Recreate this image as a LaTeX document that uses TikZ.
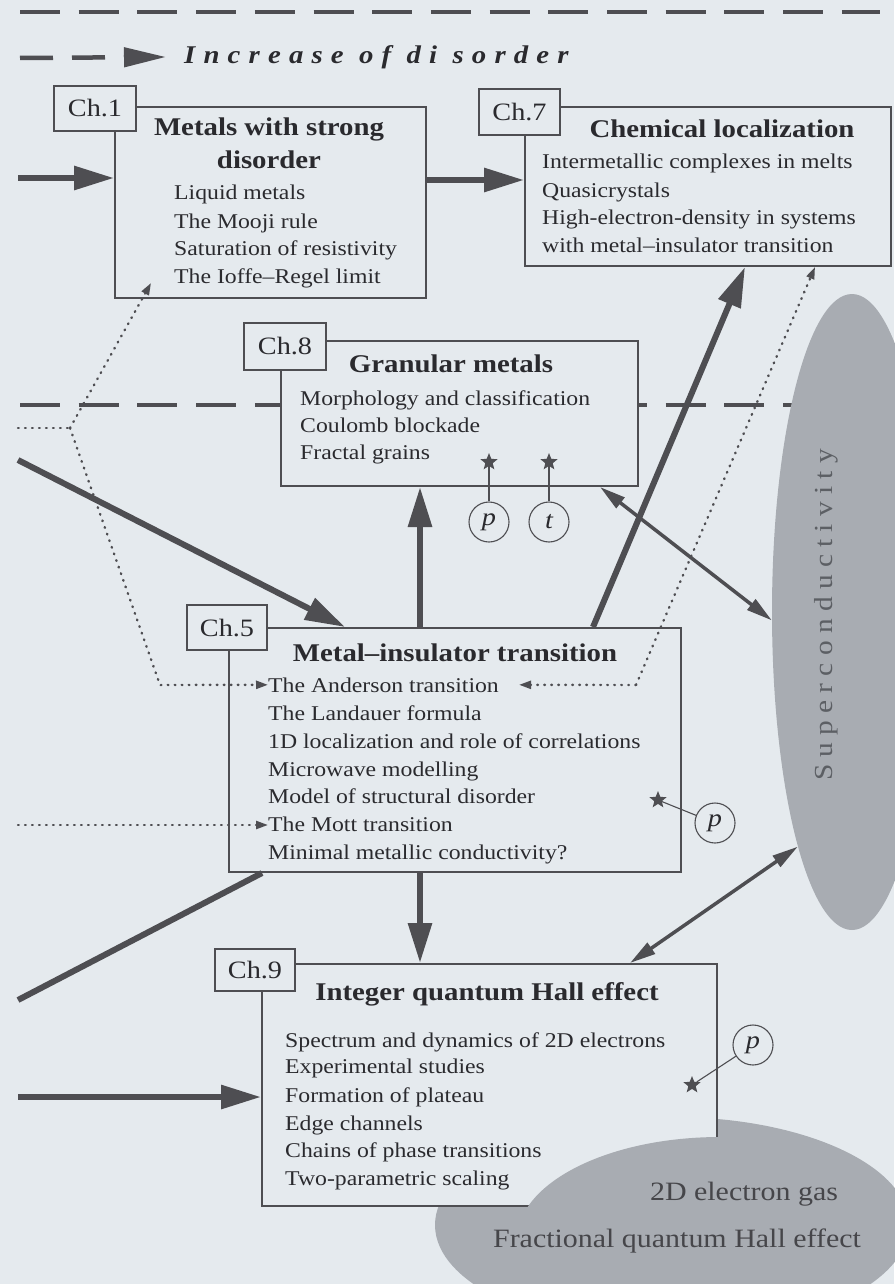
\documentclass[tikz,border=0pt]{standalone}
\usepackage{fontspec}
\setmainfont{Liberation Serif}[FakeStretch=1.13]
\usepackage{xcolor}
\usepackage{tikz}
\usetikzlibrary{shapes.geometric}
\usetikzlibrary{arrows.meta}

\definecolor{paper}{RGB}{229,234,238}
\definecolor{ink}{RGB}{78,78,82}
\definecolor{print}{RGB}{42,42,46}
\definecolor{blob}{RGB}{168,172,178}
\definecolor{blobtext}{RGB}{92,95,100}
\definecolor{gasink}{RGB}{70,70,74}

\tikzset{
  chbox/.style = {draw = ink, line width = 2pt, fill = paper, rectangle, anchor = north west, inner sep = 0pt},
  chtag/.style = {draw = ink, line width = 2.4pt, fill = paper, rectangle, inner sep = 0pt, text = print, font = \fontsize{25}{30}\selectfont},
  heading/.style = {anchor = base, inner sep = 0pt, text = print, font = \fontsize{25.5}{30}\selectfont\bfseries},
  topic/.style = {anchor = base west, inner sep = 0pt, text = print, font = \fontsize{21}{25}\selectfont},
  bigarrow/.style = {draw = ink, line width = 6pt, -{Triangle[length = 40pt, width = 23pt]}},
  twoway/.style = {draw = ink, line width = 3.5pt, {Triangle[length = 26pt, width = 13pt]}-{Triangle[length = 26pt, width = 13pt]}},
  dotline/.style = {draw = ink, line width = 2.4pt, dash pattern = on 0.8pt off 6.2pt, line cap = round},
  dotarrow/.style = {dotline, -{Triangle[length = 12pt, width = 8pt]}},
  longdash/.style = {draw = ink, line width = 4.5pt, dash pattern = on 40pt off 18.7pt},
  starmark/.style = {star, star points = 5, star point ratio = 2.3, fill = ink, inner sep = 0pt, minimum size = 18pt},
  ptag/.style = {circle, draw = ink, line width = 1.1pt, minimum size = 40pt, inner sep = 0pt, text = print, font = \fontsize{25}{25}\selectfont\itshape},
  tagline/.style = {draw = ink, line width = 1.1pt},
  blobshape/.style = {ellipse, fill = blob, inner sep = 0pt},
}

\begin{document}
\begin{tikzpicture}[x = 1pt, y = -1pt]
        \fill[paper] (0, 0) rectangle (894, 1284);
        \useasboundingbox (0, 0) rectangle (894, 1284);

        % scale of disorder
        \draw[longdash] (20, 12) -- (880, 12);
        \coordinate (dstart) at (20, 58);
        \node[anchor = west, inner sep = 0pt, text = print,
            font = \fontsize{25.5}{26}\selectfont\bfseries\itshape\addfontfeatures{LetterSpace = 32}]
            (incr) at (184, 57) {Increase of di sorder};
        \draw[draw = ink, line width = 4.5pt, dash pattern = on 33pt off 19pt,
            -{Triangle[length = 42pt, width = 19pt]}] (dstart) -- ([xshift = -18pt]incr.west);
        \draw[longdash] (20, 405) -- (795, 405);

        \node[blobshape, minimum width = 160pt, minimum height = 636pt] (sc) at (852, 612) {};
        \node[rotate = 90, inner sep = 0pt, text = blobtext,
            font = \fontsize{26}{26}\selectfont\addfontfeatures{LetterSpace = 28}]
            (sctext) at (826, 615) {Superconductivity};

        % Ch.1
        \node[chbox, minimum width = 311pt, minimum height = 191pt] (ch1) at (114, 106) {};
        \node[chtag, minimum width = 82pt, minimum height = 45pt] (ch1tag) at (95, 108.5) {Ch.1};
        \node[heading] (ch1head) at (269, 136) {Metals with strong};
        \node[heading] (ch1headb) at (269, 169) {disorder};
        \node[topic] (liquid) at (174, 200) {Liquid metals};
        \node[topic] (mooji) at (174, 228) {The Mooji rule};
        \node[topic] (satur) at (174, 255) {Saturation of resistivity};
        \node[topic] (ioffe) at (174, 283) {The Ioffe--Regel limit};

        % Ch.7
        \node[chbox, minimum width = 366pt, minimum height = 159pt] (ch7) at (524, 106) {};
        \node[chtag, minimum width = 81pt, minimum height = 46pt] (ch7tag) at (519.5, 112) {Ch.7};
        \node[heading] (ch7head) at (722, 138) {Chemical localization};
        \node[topic] (intermet) at (542, 168) {Intermetallic complexes in melts};
        \node[topic] (quasi) at (542, 197) {Quasicrystals};
        \node[topic] (highdens) at (542, 224) {High-electron-density in systems};
        \node[topic] (withmit) at (542, 252) {with metal--insulator transition};

        % Ch.8
        \node[chbox, minimum width = 357pt, minimum height = 145pt] (ch8) at (280, 340) {};
        \node[chtag, minimum width = 82pt, minimum height = 47pt] (ch8tag) at (285, 346.5) {Ch.8};
        \node[heading] (ch8head) at (451, 372) {Granular metals};
        \node[topic] (morph) at (300, 405) {Morphology and classification};
        \node[topic] (coulomb) at (300, 432) {Coulomb blockade};
        \node[topic] (fractal) at (300, 459) {Fractal grains};
        \node[starmark] (ch8stara) at (489, 462) {};
        \node[starmark] (ch8starb) at (549, 462) {};
        \node[ptag] (ch8p) at (489, 522) {p};
        \node[ptag] (ch8t) at (549, 522) {t};
        \draw[tagline] (ch8stara) -- (ch8p);
        \draw[tagline] (ch8starb) -- (ch8t);

        % Ch.5
        \node[chbox, minimum width = 452pt, minimum height = 244pt] (ch5) at (228, 627) {};
        \node[chtag, minimum width = 80pt, minimum height = 45pt] (ch5tag) at (227, 627.5) {Ch.5};
        \node[heading] (ch5head) at (455, 661) {Metal--insulator transition};
        \node[topic] (anderson) at (268, 692) {The Anderson transition};
        \node[topic] (landauer) at (268, 720) {The Landauer formula};
        \node[topic] (oned) at (268, 748) {1D localization and role of correlations};
        \node[topic] (microwave) at (268, 776) {Microwave modelling};
        \node[topic] (structural) at (268, 803) {Model of structural disorder};
        \node[topic] (mott) at (268, 831) {The Mott transition};
        \node[topic] (minimal) at (268, 859) {Minimal metallic conductivity?};
        \node[starmark] (ch5star) at (658, 800) {};
        \node[ptag] (ch5p) at (715, 823) {p};
        \draw[tagline] (ch5star) -- (ch5p);

        % 2D electron gas, partly under Ch.9
        \node[blobshape, minimum width = 474pt, minimum height = 216pt] (gas) at (672, 1225) {};

        % Ch.9
        \node[chbox, minimum width = 455pt, minimum height = 242pt] (ch9) at (261, 963) {};
        \node[chtag, minimum width = 80pt, minimum height = 42pt] (ch9tag) at (255, 970) {Ch.9};
        \node[heading] (ch9head) at (487, 1000) {Integer quantum Hall effect};
        \node[topic] (spectrum) at (285, 1047) {Spectrum and dynamics of 2D electrons};
        \node[topic] (experim) at (285, 1073) {Experimental studies};
        \node[topic] (plateau) at (285, 1102) {Formation of plateau};
        \node[topic] (edge) at (285, 1130) {Edge channels};
        \node[topic] (chains) at (285, 1157) {Chains of phase transitions};
        \node[topic] (twopar) at (285, 1185) {Two-parametric scaling};
        \node[starmark] (ch9star) at (692, 1085) {};
        \node[ptag] (ch9p) at (753, 1045) {p};
        \draw[tagline] (ch9star) -- (ch9p);
        \begin{scope}
            \clip ([xshift = -1.5pt, yshift = 1.5pt]ch9.north west) rectangle ([xshift = 1.5pt, yshift = -1.5pt]ch9.south east);
            \node[blobshape, minimum width = 406pt, minimum height = 206pt] (gascut) at (720, 1240) {};
        \end{scope}

        % connections
        \coordinate (in1) at (18, 178);
        \draw[bigarrow] (in1) -- (in1 -| ch1.west);
        \draw[bigarrow] ([yshift = -74pt]ch1.north east) -- ([yshift = -74pt]ch7.north west);
        \coordinate (in5) at (18, 460);
        \draw[bigarrow] (in5) -- ([xshift = 117pt]ch5.north west);
        \draw[bigarrow] ([xshift = 192pt]ch5.north west) -- ([xshift = 140pt]ch8.south west);
        \draw[bigarrow] ([xshift = 365pt]ch5.north west) -- ([xshift = 221pt]ch7.south west);
        \draw[twoway] ([xshift = -39pt]ch8.south east) -- (sc.186);
        \draw[bigarrow] ([xshift = 192pt]ch5.south west) -- ([xshift = 159pt]ch9.north west);
        \draw[twoway] ([xshift = 369pt]ch9.north west) -- (sc.257);
        \coordinate (in9a) at (18, 1000);
        \draw[draw = ink, line width = 6pt] (in9a) -- ([xshift = 34pt]ch5.south west);
        \coordinate (in9) at (18, 1097);
        \draw[bigarrow] (in9) -- (in9 -| ch9.west);

        % dotted links
        \coordinate (lstart) at (18, 428);
        \coordinate (lfork) at (70, 428);
        \coordinate (lfoot) at (160, 685);
        \draw[dotline] (lstart) -- (lfork);
        \draw[dotarrow] (lfork) -- ([xshift = -23pt]ioffe.base west);
        \draw[dotarrow] (lfork) -- (lfoot) -- (anderson.west);
        \coordinate (rfork) at (636, 685);
        \draw[dotarrow] (rfork) -- ([xshift = 20pt]anderson.east);
        \draw[dotarrow] (rfork) -- ([xshift = 291pt]ch7.south west);
        \coordinate (mstart) at (18, 825);
        \draw[dotarrow] (mstart) -- (mstart -| mott.west);

        \node[anchor = base, inner sep = 0pt, text = gasink, font = \fontsize{26.5}{30}\selectfont]
            (gasa) at (744, 1200) {2D electron gas};
        \node[anchor = base, inner sep = 0pt, text = gasink, font = \fontsize{26.5}{30}\selectfont]
            (gasb) at (677, 1247) {Fractional quantum Hall effect};
\end{tikzpicture}
\end{document}
